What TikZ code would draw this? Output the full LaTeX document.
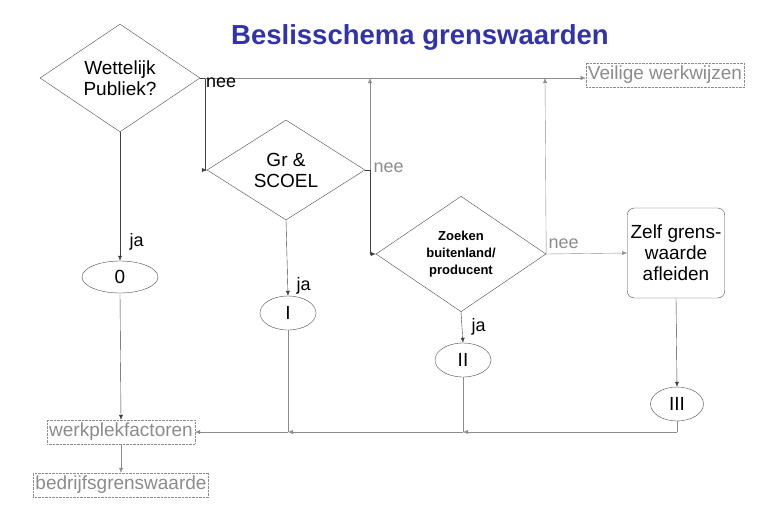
\documentclass[tikz,border=0pt]{standalone}
\usepackage{fontspec}
\setmainfont{Liberation Sans}
\usetikzlibrary{shapes.geometric,arrows.meta}
\definecolor{gr}{gray}{0.55}
\definecolor{tb}{RGB}{50,50,170}
\begin{document}
\begin{tikzpicture}[x=1pt,y=-1pt,
  dia/.style={draw=black!70,diamond,minimum width=160pt,minimum height=96pt,inner sep=0pt,align=center,font=\fontsize{19}{21}\selectfont},
  ell/.style={draw=black!70,ellipse,inner sep=0pt,font=\fontsize{19}{21}\selectfont},
  gbox/.style={draw=gr,densely dotted,text=gr,inner sep=2pt,minimum height=24pt,font=\fontsize{19}{21}\selectfont},
  blk/.style={draw=black!75,-{Latex[length=5pt,width=4pt]}},
  gry/.style={draw=gr,-{Latex[length=5pt,width=4pt]}},
  lab/.style={font=\fontsize{18}{20}\selectfont}]
\useasboundingbox (0,0) rectangle (771,509);
\fill[white] (0,0) rectangle (771,509);
\node[text=tb,font=\bfseries\fontsize{27.5}{30}\selectfont] (title) at (420,37) {Beslisschema grenswaarden};
\node[dia,minimum width=160pt,minimum height=94pt] (d1) at (120,78) {Wettelijk\\Publiek?};
\node[dia,minimum width=158pt,minimum height=100pt] (d2) at (286,170) {Gr \&\\SCOEL};
\node[dia,minimum width=170pt,minimum height=100pt,font=\bfseries\fontsize{13}{17}\selectfont] (d3) at (461,254) {Zoeken\\buitenland/\\producent};
\node[draw=black!70,rounded corners=7pt,minimum width=97pt,minimum height=90pt,align=center,font=\fontsize{19}{21}\selectfont] (zelf) at (676,253) {Zelf grens-\\waarde\\afleiden};
\node[gbox] (vw) at (665,75) {Veilige werkwijzen};
\node[ell,minimum width=76pt,minimum height=32pt] (e0) at (120,277) {0};
\node[ell,minimum width=56pt,minimum height=34pt] (e1) at (288,313) {I};
\node[ell,minimum width=56pt,minimum height=34pt] (e2) at (463,360) {II};
\node[ell,minimum width=53pt,minimum height=34pt] (e3) at (677,404) {III};
\node[gbox] (wf) at (121,432) {werkplekfactoren};
\node[gbox] (bg) at (121,485) {bedrijfsgrenswaarde};
\coordinate (a) at (205,78);
\coordinate (b) at (370,170);
\coordinate (c) at (545,254);
\coordinate (m1) at (288,432);
\coordinate (m2) at (463,432);
\coordinate (m3) at (677,432);
% nee branches
\draw[draw=black!75] (d1.east) -- (a);
\draw[blk] (a) |- (d2.west);
\draw[gry] (a) -- (a -| vw.west);
\draw[draw=black!75] (d2.east) -- (b);
\draw[gry] (b) -- (b |- a);
\draw[blk] (b) |- (d3.west);
\draw[gry] (d3.east) -- (c |- a);
\draw[gry] (d3.east) -- (zelf.west);
\node[lab,anchor=north west,inner sep=1pt] (n1) at (205,77) {nee};
\node[lab,text=gr,anchor=west] (n2) at (370,168) {nee};
\node[lab,text=gr,anchor=south west] (n3) at (545,252) {nee};
% ja branches
\draw[blk] (d1.south) -- (e0.north);
\draw[blk] (d2.south) -- (e1.north);
\draw[blk] (d3.south) -- (e2.north);
\draw[blk] (zelf.south) -- (e3.north);
\node[lab,anchor=west] (j1) at (126,242) {ja};
\node[lab,anchor=west] (j2) at (293,286) {ja};
\node[lab,anchor=west] (j3) at (468,327) {ja};
% collection
\draw[blk] (e0.south) -- (wf.north);
\draw[draw=gr] (e3.south) -- (m3);
\draw[gry] (m3) -- (m2);
\draw[gry] (m2) -- (m1);
\draw[gry] (m1) -- (wf.east);
\draw[draw=gr] (e2.south) -- (m2);
\draw[draw=gr] (e1.south) -- (m1);
\draw[gry] (wf.south) -- (bg.north);
\end{tikzpicture}
\end{document}
